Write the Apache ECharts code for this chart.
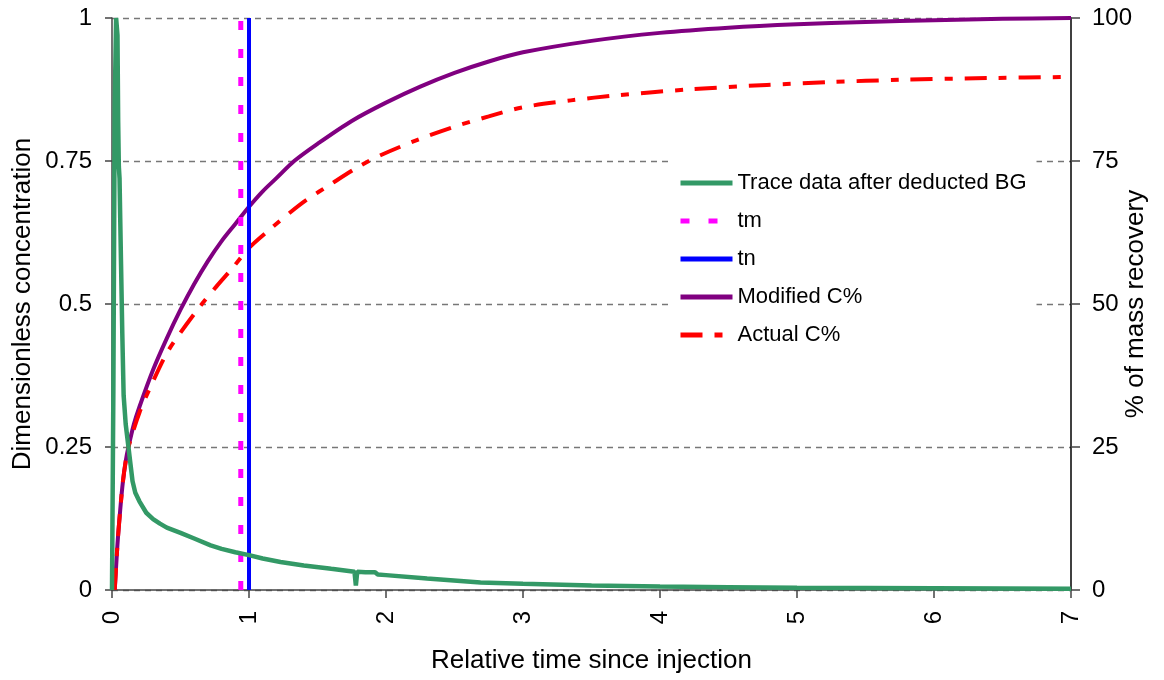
<!DOCTYPE html>
<html><head><meta charset="utf-8">
<script src="https://cdn.jsdelivr.net/npm/echarts@6/dist/echarts.min.js"></script>
<style>html,body{margin:0;padding:0;background:#fff}#c{width:1164px;height:680px}</style>
</head><body><div id="c"></div>
<script>
// Trace data after deducted BG (dimensionless concentration)
const traceX = [0, 0.01, 0.02, 0.03, 0.04, 0.045, 0.05, 0.055, 0.06, 0.066, 0.075, 0.085, 0.1, 0.12, 0.135, 0.15, 0.17, 0.2, 0.25, 0.3, 0.35, 0.4, 0.5, 0.6, 0.72, 0.8, 0.9, 1.0, 1.1, 1.23, 1.4, 1.6, 1.77, 1.78, 1.79, 1.85, 1.92, 1.94, 2.0, 2.3, 2.69, 3.0, 3.5, 4.0, 4.5, 5.0, 6.0, 7.0];
const traceY = [0, 0.35, 0.85, 1.0, 0.97, 0.82, 0.74, 0.72, 0.65, 0.57, 0.45, 0.34, 0.29, 0.25, 0.22, 0.19, 0.17, 0.155, 0.135, 0.124, 0.116, 0.109, 0.1, 0.09, 0.078, 0.072, 0.066, 0.061, 0.055, 0.049, 0.043, 0.037, 0.032, 0.008, 0.032, 0.031, 0.031, 0.027, 0.026, 0.02, 0.013, 0.011, 0.008, 0.006, 0.005, 0.004, 0.003, 0.002];
// Vertical markers
const tmX = 0.94;
const tnX = 1.0;
// Modified C% (% of mass recovery)
const modX = [0.02, 0.04, 0.06, 0.08, 0.1, 0.12, 0.16, 0.2, 0.3, 0.4, 0.5, 0.6, 0.7, 0.8, 0.9, 1.0, 1.1, 1.2, 1.33, 1.5, 1.75, 2.0, 2.25, 2.5, 2.75, 3.0, 3.5, 4.0, 4.5, 5.0, 5.5, 6.0, 6.5, 7.0];
const modY = [0, 8, 14, 19, 22.5, 25, 29, 32, 38.5, 44, 49, 53.5, 57.5, 61, 64, 67, 69.7, 72, 75, 78, 82, 85.2, 88, 90.4, 92.4, 94, 96, 97.4, 98.3, 98.9, 99.3, 99.6, 99.85, 100];
// Actual C% (% of mass recovery)
const actX = [0.02, 0.04, 0.06, 0.08, 0.1, 0.12, 0.2, 0.3, 0.4, 0.5, 0.64, 0.76, 0.88, 1.0, 1.15, 1.3, 1.42, 1.6, 1.8, 1.96, 2.23, 2.5, 2.75, 3.0, 3.35, 3.69, 4.2, 4.78, 5.25, 5.75, 6.4, 7.0];
const actY = [0, 8, 14, 19, 22.5, 25, 31, 36.5, 41.4, 45, 49.5, 53, 56.3, 59.8, 63, 66, 68.2, 71, 74, 76, 78.7, 81, 82.8, 84.4, 85.6, 86.5, 87.5, 88.3, 88.8, 89.2, 89.5, 89.7];
// Axis ticks
const leftTicks = [0, 0.25, 0.5, 0.75, 1];
const rightTicks = [0, 25, 50, 75, 100];
const xTicks = [0, 1, 2, 3, 4, 5, 6, 7];

const zip = (a, b) => a.map((v, i) => [v, b[i]]);
const font = '"Liberation Sans", Arial, sans-serif';
const chart = echarts.init(document.getElementById('c'), null, {renderer: 'canvas'});
chart.setOption({
  animation: false,
  backgroundColor: '#fff',
  grid: {left: 112, right: 93, top: 18, bottom: 90, containLabel: false, outerBoundsMode: 'none'},
  xAxis: {
    type: 'value', min: xTicks[0], max: xTicks[xTicks.length - 1], interval: 1,
    name: 'Relative time since injection', nameLocation: 'middle', nameGap: 58, nameMoveOverlap: false,
    nameTextStyle: {fontFamily: font, fontSize: 26, color: '#000'},
    axisLine: {show: true, onZero: false, lineStyle: {color: '#444', width: 1.5}},
    axisTick: {show: true, length: 8, lineStyle: {color: '#444', width: 1.5}},
    axisLabel: {rotate: 90, fontFamily: font, fontSize: 24, color: '#000', margin: 21},
    splitLine: {show: false}
  },
  yAxis: [{
    type: 'value', min: 0, max: 1, interval: 0.25, position: 'left',
    name: 'Dimensionless concentration', nameLocation: 'middle', nameGap: 76, nameMoveOverlap: false,
    nameTextStyle: {fontFamily: font, fontSize: 26, color: '#000'},
    axisLine: {show: true, lineStyle: {color: '#444', width: 1.5}},
    axisTick: {show: true, length: 7, lineStyle: {color: '#444', width: 1.5}},
    axisLabel: {fontFamily: font, fontSize: 24, color: '#000', margin: 20,
      formatter: v => leftTicks.includes(v) ? String(v) : ''},
    splitLine: {show: true, lineStyle: {color: '#777', width: 1.3, type: [6, 5]}}
  }, {
    type: 'value', min: 0, max: 100, interval: 25, position: 'right',
    name: '% of mass recovery', nameLocation: 'middle', nameGap: 52, nameRotate: 90, nameMoveOverlap: false,
    nameTextStyle: {fontFamily: font, fontSize: 26, color: '#000'},
    axisLine: {show: true, lineStyle: {color: '#000', width: 1.5}},
    axisTick: {show: true, length: 9, lineStyle: {color: '#444', width: 1.5}},
    axisLabel: {fontFamily: font, fontSize: 24, color: '#000', margin: 21,
      formatter: v => rightTicks.includes(v) ? String(v) : ''},
    splitLine: {show: false}
  }],
  legend: {
    orient: 'vertical', left: 668, top: 152, itemGap: 16,
    itemWidth: 52, itemHeight: 14,
    backgroundColor: '#fff', padding: [20, 10, 18, 10],
    itemStyle: {opacity: 0},
    lineStyle: {width: 5},
    textStyle: {fontFamily: font, fontSize: 22, color: '#000'},
    data: ['Trace data after deducted BG', 'tm', 'tn', 'Modified C%', 'Actual C%']
  },
  series: [
    {name: 'Modified C%', type: 'line', yAxisIndex: 1, data: zip(modX, modY), symbol: 'none', smooth: 0.3,
      lineStyle: {color: '#800080', width: 4}, itemStyle: {color: '#800080'}, z: 3},
    {name: 'Actual C%', type: 'line', yAxisIndex: 1, data: zip(actX, actY), symbol: 'none', smooth: 0.3,
      lineStyle: {color: '#ff0000', width: 4, type: [22, 12, 8, 12]}, itemStyle: {color: '#ff0000'}, z: 3},
    {name: 'tm', type: 'line', yAxisIndex: 0, data: [[tmX, 0], [tmX, 1]], symbol: 'none',
      lineStyle: {color: '#ff00ff', width: 5, type: [9, 19]}, itemStyle: {color: '#ff00ff'}, z: 4},
    {name: 'tn', type: 'line', yAxisIndex: 0, data: [[tnX, 0], [tnX, 1]], symbol: 'none',
      lineStyle: {color: '#0000ff', width: 4}, itemStyle: {color: '#0000ff'}, z: 4},
    {name: 'Trace data after deducted BG', type: 'line', yAxisIndex: 0, data: zip(traceX, traceY), symbol: 'none',
      lineStyle: {color: '#339966', width: 4.5}, itemStyle: {color: '#339966'}, z: 5}
  ]
});
</script></body></html>
